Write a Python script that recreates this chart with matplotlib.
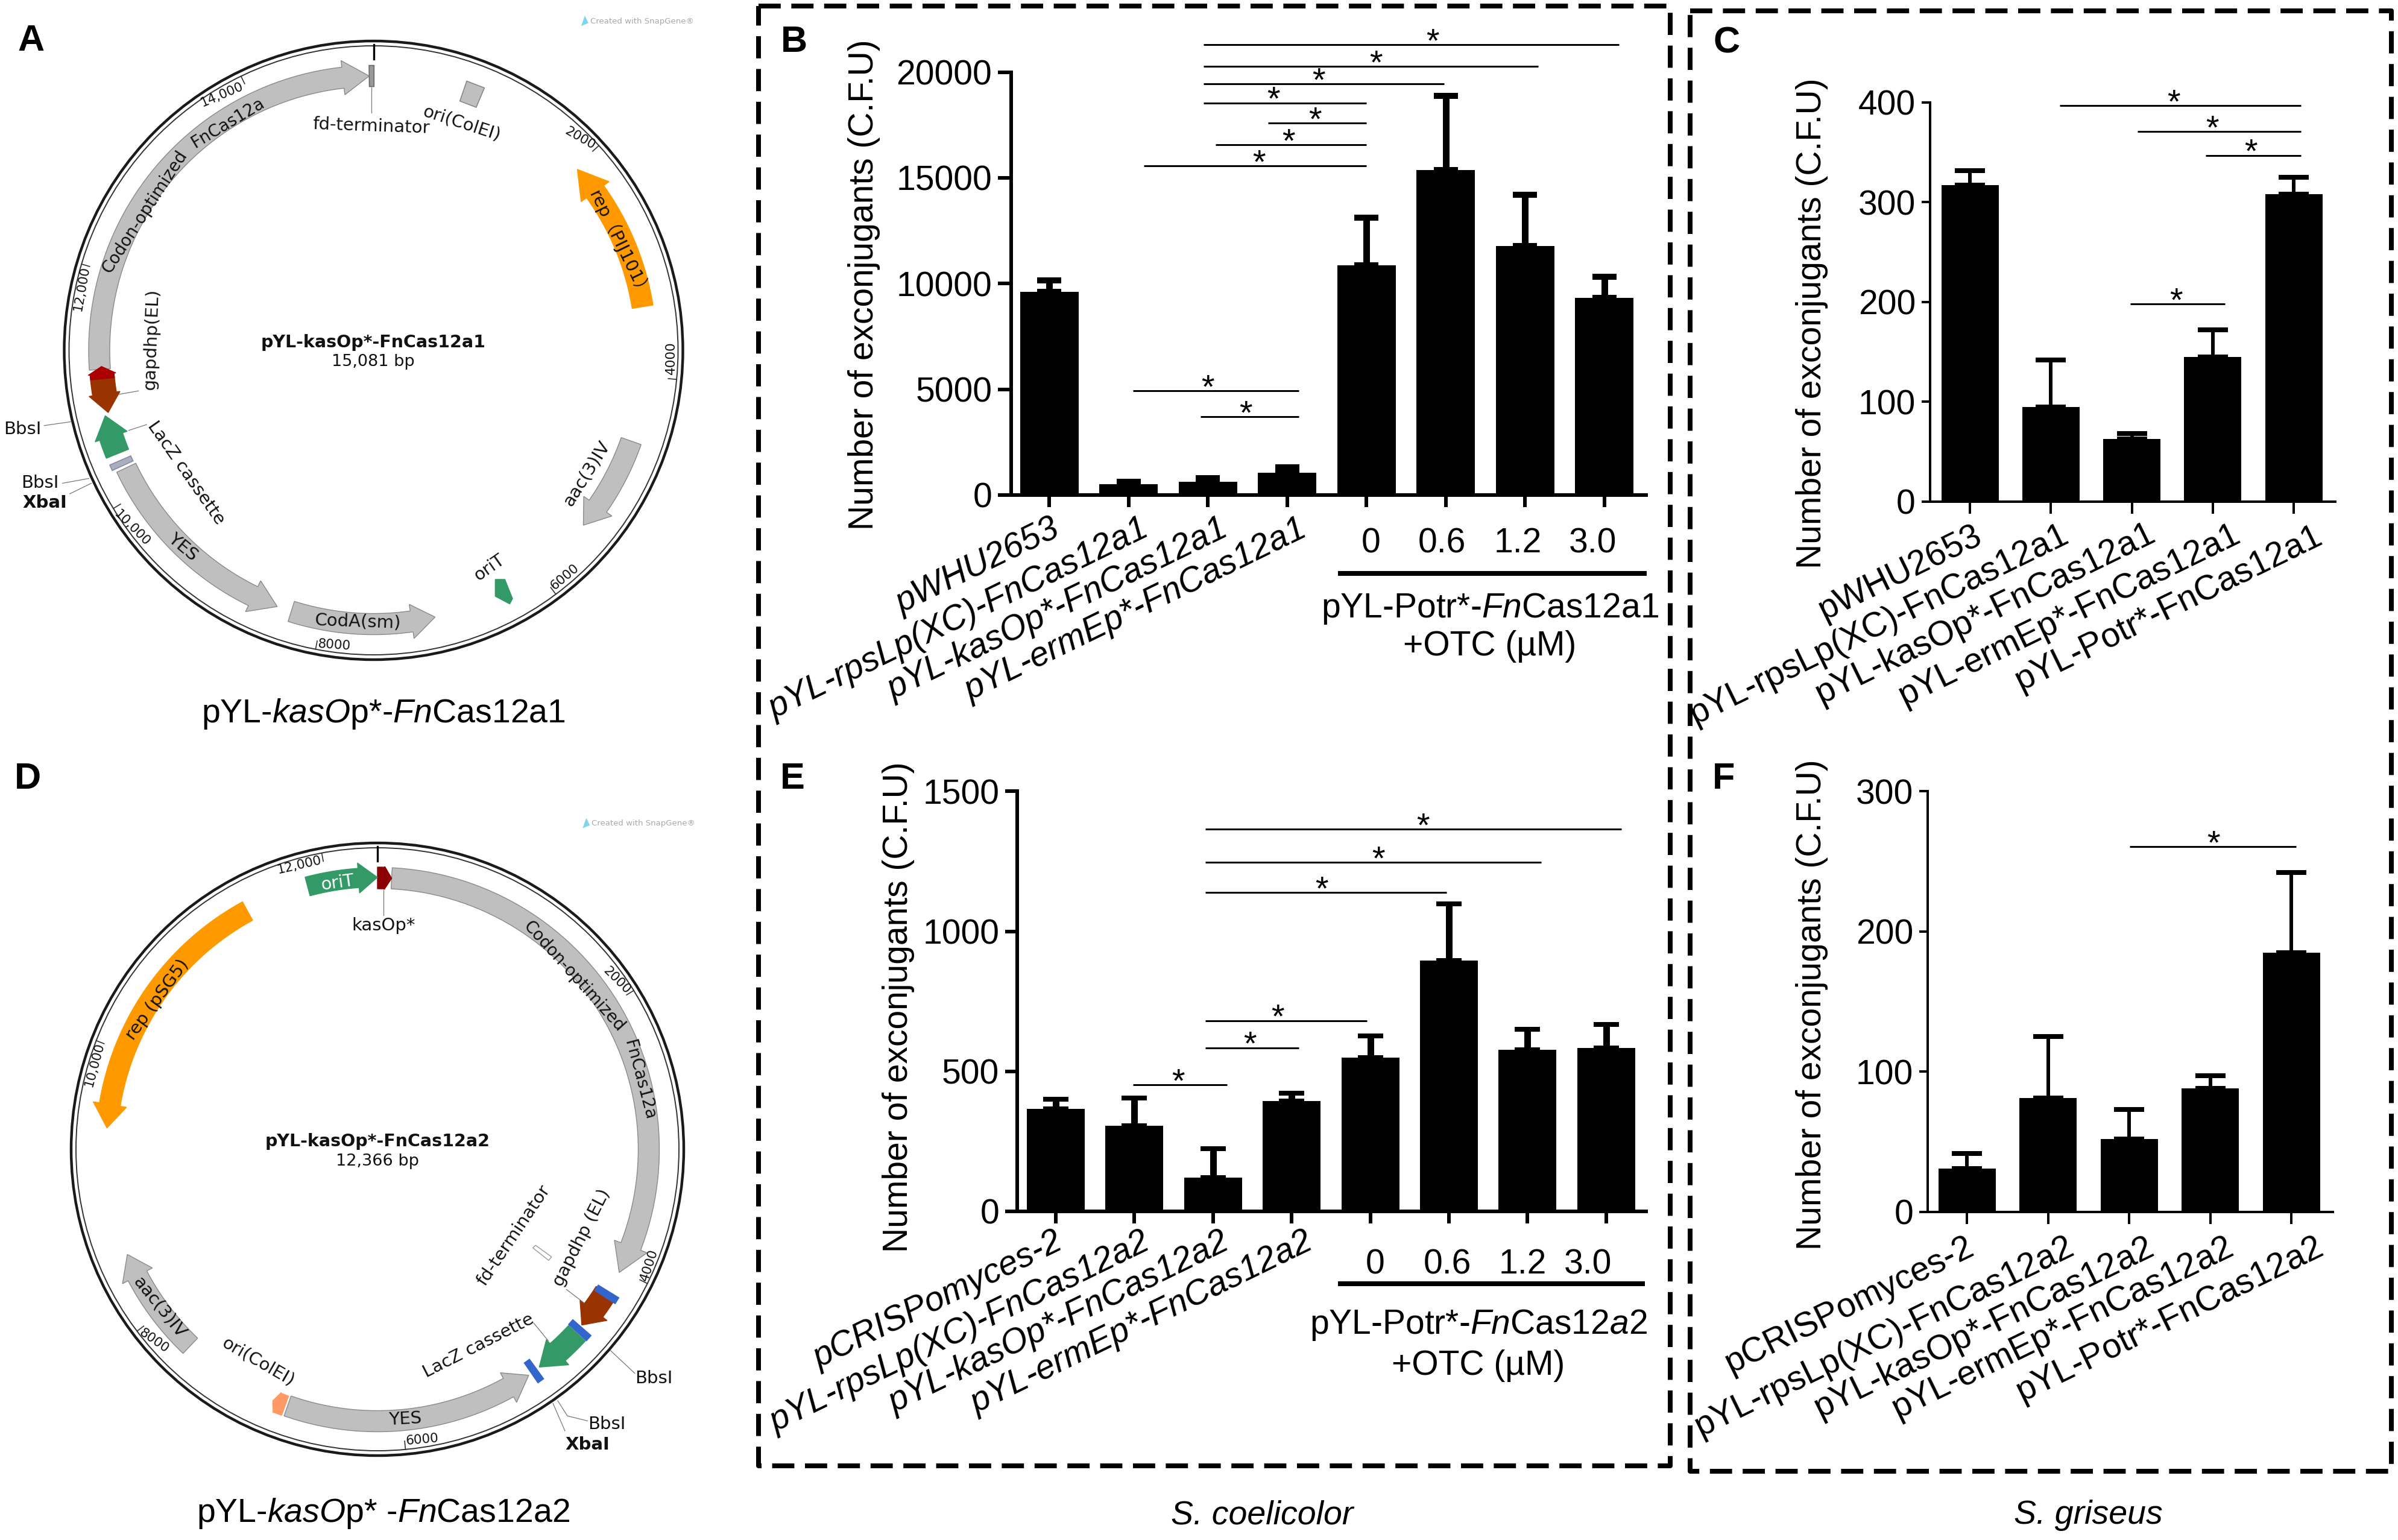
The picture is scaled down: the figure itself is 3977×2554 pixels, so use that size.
import numpy as np
import matplotlib
matplotlib.use("Agg")
import matplotlib.pyplot as plt
from matplotlib.patches import Polygon, Circle
from matplotlib.transforms import ScaledTranslation

plt.rcParams['font.family'] = ['Liberation Sans', 'DejaVu Sans']
plt.rcParams['mathtext.fontset'] = 'custom'
plt.rcParams['mathtext.rm'] = 'Liberation Sans'
plt.rcParams['mathtext.it'] = 'Liberation Sans:italic'
plt.rcParams['mathtext.bf'] = 'Liberation Sans:bold'

W, H = 3977, 2554
PX = 0.72  # px -> pt at dpi 100
YLABEL = 'Number of exconjugants (C.F.U)'

# ---- panel B ----
b_labels = ['pWHU2653', 'pYL-rpsLp(XC)-FnCas12a1', 'pYL-kasOp*-FnCas12a1', 'pYL-ermEp*-FnCas12a1',
            '0', '0.6', '1.2', '3.0']
b_means = [9615, 500, 614, 1045, 10865, 15365, 11774, 9320]
b_upper = [10160, 614, 800, 1318, 13115, 18865, 14200, 10320]
b_sig_x0 = [1.95, 1.95, 1.95, 1.95, 2.76, 2.10, 1.195, 1.06, 1.91]
b_sig_x1 = [7.19, 6.17, 4.98, 4.0, 4.0, 4.0, 4.0, 3.15, 3.15]
b_sig_y = [21298, 20275, 19434, 18548, 17593, 16570, 15570, 4932, 3705]
b_star_x = [4.84, 4.12, 3.40, 2.83, 3.35, 3.02, 2.65, 2.0, 2.48]
b_yticks = [0, 5000, 10000, 15000, 20000]

# ---- panel C ----
c_labels = ['pWHU2653', 'pYL-rpsLp(XC)-FnCas12a1', 'pYL-kasOp*-FnCas12a1', 'pYL-ermEp*-FnCas12a1',
            'pYL-Potr*-FnCas12a1']
c_means = [317, 95, 63, 145, 308]
c_upper = [332, 142, 68, 172, 325]
c_sig_x0 = [1.11, 2.07, 2.91, 1.98]
c_sig_x1 = [4.085, 4.085, 4.085, 3.15]
c_sig_y = [397, 371, 347, 198]
c_star_x = [2.52, 2.99, 3.47, 2.545]
c_yticks = [0, 100, 200, 300, 400]

# ---- panel E ----
e_labels = ['pCRISPomyces-2', 'pYL-rpsLp(XC)-FnCas12a2', 'pYL-kasOp*-FnCas12a2', 'pYL-ermEp*-FnCas12a2',
            '0', '0.6', '1.2', '3.0']
e_means = [366, 306, 120, 394, 548, 896, 577, 584]
e_upper = [401, 405, 224, 421, 627, 1097, 649, 667]
e_sig_x0 = [1.90, 1.90, 1.90, 1.90, 1.90, 0.985]
e_sig_x1 = [7.19, 6.17, 4.97, 3.96, 3.09, 2.18]
e_sig_y = [1365, 1247, 1138, 681, 584, 452]
e_star_x = [4.67, 4.10, 3.38, 2.82, 2.47, 1.56]
e_yticks = [0, 500, 1000, 1500]

# ---- panel F ----
f_labels = ['pCRISPomyces-2', 'pYL-rpsLp(XC)-FnCas12a2', 'pYL-kasOp*-FnCas12a2', 'pYL-ermEp*-FnCas12a2',
            'pYL-Potr*-FnCas12a2']
f_means = [31, 81, 52, 88, 185]
f_upper = [41.5, 125, 73, 97, 242]
f_sig_x0 = [2.01]
f_sig_x1 = [4.06]
f_sig_y = [260.6]
f_star_x = [3.04]
f_yticks = [0, 100, 200, 300]

# ---- plasmid map features: name, start deg, end deg (clockwise from top), head deg, radius, width, head width, colour
GREY, ORANGE, GREEN, BROWN, RED = '#BFBFBF', '#FF9900', '#339966', '#993300', '#AA0000'
a_feats = [
    ('Codon', 266, 359.1, 5.5, 455, 35, 57, GREY),
    ('rep', 80.8, 48.4, 6, 452, 35, 57, ORANGE),
    ('aac', 109.4, 129.8, 5, 453, 35, 57, GREY),
    ('CodA', 197.5, 167, 5, 454, 35, 57, GREY),
    ('YES', 244.6, 200.6, 5.5, 454, 35, 57, GREY),
    ('LacZ', 248, 256.3, 4.5, 458, 40, 56, GREEN),
    ('gapdhp', 264, 256.8, 4, 452, 40, 52, BROWN),
    ('kasOp', 264, 266.6, 1.6, 452, 40, 46, RED),
]
d_feats = [
    ('Codon', 3, 117, 6, 450, 35, 58, GREY),
    ('kasOp', 0, 3, 1.5, 450, 36, 38, '#8B0000'),
    ('oriT', -14.9, 0, 4, 451, 32, 50, GREEN),
    ('rep', 331.4, 274.5, 5, 450, 35, 56, ORANGE),
    ('aac', 223.6, 247.2, 5, 450, 35, 56, GREY),
    ('ori', 199.8, 202.6, 1, 452, 34, 36, '#FF9966'),
    ('YES', 199.3, 146.2, 5, 451, 35, 56, GREY),
    ('LacZ', 132.7, 143.4, 5, 450, 38, 56, GREEN),
    ('gapdhp', 122.1, 130.7, 4, 447, 38, 56, BROWN),
]
a_ticks = [2000, 4000, 6000, 8000, 10000, 12000, 14000]
d_ticks = [2000, 4000, 6000, 8000, 10000, 12000]
a_bp, d_bp = 15081, 12366

fig = plt.figure(figsize=(W / 100, H / 100), dpi=100, facecolor='white')
ov = fig.add_axes([0, 0, 1, 1])
ov.set_xlim(0, W)
ov.set_ylim(H, 0)
ov.axis('off')


def bars(left, right, y0, ytop, c0, pitch, means, upper, ymax, yticks, labels, dxs, dys, rots, italic,
         sx0, sx1, sy, sstar, spine, stem, capw, capt, tl, barw, yl_xy):
    ax = fig.add_axes([left / W, 1 - y0 / H, (right - left) / W, (y0 - ytop) / H])
    ax.patch.set_alpha(0)
    n = len(means)
    x = np.arange(n)
    ax.set_xlim((left - c0) / pitch, (right - c0) / pitch)
    ax.set_ylim(0, ymax)
    m = np.array(means, float)
    u = np.array(upper, float)
    ax.bar(x, m, width=barw / pitch, color='black')
    ax.errorbar(x, m, yerr=[np.zeros(n), u - m], fmt='none', ecolor='black', elinewidth=stem * PX,
                capsize=capw / 2 * PX, capthick=capt * PX, clip_on=False)
    for s in ['top', 'right']:
        ax.spines[s].set_visible(False)
    for s in ['left', 'bottom']:
        ax.spines[s].set_linewidth(spine * PX)
    ax.set_yticks(yticks)
    ax.tick_params(axis='y', length=tl * PX, width=spine * PX, labelsize=41, pad=7)
    ax.tick_params(axis='x', length=20 * PX, width=spine * PX, labelsize=41, pad=14)
    ax.set_xticks(x)
    ax.set_xticklabels(labels)
    for i, lab in enumerate(ax.get_xticklabels()):
        lab.set_rotation(rots[i])
        lab.set_rotation_mode('anchor')
        if rots[i]:
            lab.set_ha('right')
            if italic:
                lab.set_style('italic')
        else:
            lab.set_ha('center')
        lab.set_va('top')
        lab.set_transform(lab.get_transform() + ScaledTranslation(dxs[i] / 100, -dys[i] / 100, fig.dpi_scale_trans))
    for a, b, yy, st in zip(sx0, sx1, sy, sstar):
        ax.plot([a, b], [yy, yy], color='black', lw=3 * PX, clip_on=False, solid_capstyle='butt')
        ax.annotate('*', xy=(st, yy), xytext=(0, -8), textcoords='offset points', ha='center', va='baseline',
                    fontsize=40, annotation_clip=False)
    ov.text(yl_xy[0], yl_xy[1], YLABEL, rotation=90, ha='center', va='center', fontsize=41)
    return ax


R26 = 26
bars(1677, 2730, 821, 119.6, 1740, 131.5, b_means, b_upper, 20000, b_yticks, b_labels,
     [2, 18, 18, 18, 8, -6, -12, -19], [-10, -10, -10, -10, 14, 14, 14, 14],
     [R26] * 4 + [0] * 4, True,
     b_sig_x0, b_sig_x1, b_sig_y, b_star_x, 6, 11, 40, 10, 22, 97, (1433, 472))
bars(1687, 2730, 2008.7, 1312.4, 1751, 130.4, e_means, e_upper, 1500, e_yticks, e_labels,
     [-4, 10, 12, 20, 8, -3, -8, -30], [-15, -15, -15, -15, 22, 22, 22, 22],
     [R26] * 4 + [0] * 4, True,
     e_sig_x0, e_sig_x1, e_sig_y, e_star_x, 6, 11, 42, 8, 20, 96, (1490, 1670))
bars(3200.6, 3873, 832, 170, 3267, 134.3, c_means, c_upper, 400, c_yticks, c_labels,
     [4, 14, 24, 30, 32], [-10, -12, -14, -12, -10], [R26] * 5, False,
     c_sig_x0, c_sig_x1, c_sig_y, c_star_x, 4, 6, 50, 8, 14, 95, (3005, 536))
bars(3197, 3869, 2009.6, 1312.4, 3262, 134.5, f_means, f_upper, 300, f_yticks, f_labels,
     [-4, 28, 26, 24, 38], [-8, -8, -8, -8, -8], [R26] * 5, False,
     f_sig_x0, f_sig_x1, f_sig_y, f_star_x, 4, 6, 50, 8, 14, 95, (3005, 1666))

# group bars and captions under the dose labels
for x0, x1, yy, cx, y1, y2, lab in [
    (2219, 2731, 951, 2471, 1009, 1072, r'pYL-Potr*-$\mathit{Fn}$Cas12a1'),
    (2219, 2728, 2129, 2452, 2198, 2265, r'pYL-Potr*-$\mathit{Fn}$Cas12$\mathit{a}$2'),
]:
    ov.plot([x0, x1], [yy, yy], color='black', lw=8 * PX, solid_capstyle='butt')
    ov.text(cx, y1, lab, ha='center', va='center', fontsize=41)
    ov.text(cx, y2, '+OTC (µM)', ha='center', va='center', fontsize=41)

# dashed frames
for (l, t, r, b) in [(1258, 10, 2770, 2431), (2803, 18, 3966, 2440)]:
    ov.plot([l, r, r, l, l], [t, t, b, b, t], color='black', lw=8 * PX, linestyle=(0, (4.6, 2.2)),
            solid_capstyle='butt', dash_capstyle='butt')

# panel letters
for s, x, y in [('A', 52, 69), ('D', 46, 1293), ('B', 1317, 70), ('C', 2864, 72), ('E', 1314, 1292), ('F', 2859, 1293)]:
    ov.text(x, y, s, fontsize=44, fontweight='bold', ha='center', va='center')

ov.text(2093, 2513, 'S. coelicolor', style='italic', fontsize=40, ha='center', va='center')
ov.text(3463, 2513, 'S. griseus', style='italic', fontsize=40, ha='center', va='center')
ov.text(636, 1184, r'pYL-$\mathit{kasO}$p*-$\mathit{Fn}$Cas12a1', fontsize=40, ha='center', va='center')
ov.text(636, 2510, r'pYL-$\mathit{kasO}$p* -$\mathit{Fn}$Cas12a2', fontsize=40, ha='center', va='center')


# ---- plasmid drawing helpers ----
def P(c, r, a):
    a = np.radians(a)
    return c[0] + r * np.sin(a), c[1] - r * np.cos(a)


def arc_arrow(c, f):
    _, a0, a1, head, r, w, hw, col = f
    sgn = 1 if a1 > a0 else -1
    neck = a1 - sgn * head
    t = np.linspace(a0, neck, 60)
    outer = [P(c, r + w / 2, v) for v in t]
    inner = [P(c, r - w / 2, v) for v in t[::-1]]
    pts = outer + [P(c, r + hw / 2, neck), P(c, r, a1), P(c, r - hw / 2, neck)] + inner
    ov.add_patch(Polygon(pts, closed=True, fc=col, ec='#8a8a8a' if col == GREY else col, lw=1))


def radial_rect(c, a, r, w, half_deg, fc, ec):
    pts = [P(c, r + w / 2, a - half_deg), P(c, r + w / 2, a + half_deg),
           P(c, r - w / 2, a + half_deg), P(c, r - w / 2, a - half_deg)]
    ov.add_patch(Polygon(pts, closed=True, fc=fc, ec=ec, lw=1.2))


def ring(c, R, bp, ticks):
    ov.add_patch(Circle(c, R, fc='none', ec='#1a1a1a', lw=3.2))
    ov.add_patch(Circle(c, R - 8, fc='none', ec='#333333', lw=1.4))
    ov.plot(*zip(P(c, R - 6, 0), P(c, R - 30, 0)), color='black', lw=2.4)
    for t in ticks:
        a = 360 * t / bp
        ov.plot(*zip(P(c, R - 8, a), P(c, R - 22, a)), color='#333333', lw=1.2)


def za(x, y):
    return x / 1.254, y / 1.254


def zd(x, y):
    return x / 1.254, 1250 + y / 1.202


MAPF = ['DejaVu Sans', 'Noto Sans CJK SC']


def T(z, x, y, s, rot=0, size=21, **kw):
    px, py = z(x, y)
    ov.text(px, py, s, rotation=rot, rotation_mode='anchor', ha='center', va='center',
            fontsize=size, family=MAPF, color=kw.pop('color', '#111111'), **kw)


def L(z, pts):
    xy = [z(*p) for p in pts]
    ov.plot([p[0] for p in xy], [p[1] for p in xy], color='#777777', lw=0.9)


def snap(z, x, y):
    T(z, x, y, 'Created with SnapGene®', size=9.5, color='#a8a8a8')
    px, py = z(x - 120, y)
    ov.add_patch(Polygon([(px - 5, py + 8), (px + 1, py - 9), (px + 7, py + 3)], closed=True, fc='#7fd4ee', ec='none'))


# map A
ca = (619.5, 581)
ring(ca, 513, a_bp, a_ticks)
for f in a_feats:
    arc_arrow(ca, f)
radial_rect(ca, 359.6, 455, 35, 0.5, '#999999', '#666666')
radial_rect(ca, 21, 455, 35, 1.9, GREY, '#888888')
radial_rect(ca, 245.9, 458, 38, 0.6, '#AAB0BB', '#8888aa')
ov.add_patch(Polygon([za(1030, 1205), za(1050, 1205), za(1066, 1245), za(1060, 1256), za(1030, 1240)],
                     closed=True, fc=GREEN, ec=GREEN))
for s, x, y, r in [('14,000', 462, 197, 23), ('2000', 1207, 288, -30), ('4000', 1395, 745, 90), ('6000', 1175, 1200, 40),
                   ('8000', 695, 1342, -4), ('10,000', 275, 1098, -45), ('12,000', 170, 600, 80)]:
    T(za, x, y, s, r, size=15.5)
T(za, 776, 712, 'pYL-kasOp*-FnCas12a1', size=20.5, fontweight='bold')
T(za, 776, 752, '15,081 bp', size=19.5)
T(za, 772, 262, 'fd-terminator', -2)
T(za, 960, 257, 'ori(ColEI)', -18)
T(za, 1288, 508, 'rep（PIJ101）', -64)
T(za, 1220, 985, 'aac(3)IV', 58)
T(za, 1018, 1180, 'oriT', 35)
T(za, 744, 1293, 'CodA(sm)', -2)
T(za, 380, 1138, 'YES', -40)
T(za, 387, 983, 'LacZ cassette', -55)
T(za, 315, 705, 'gapdhp(EL)', 88)
T(za, 301, 441, 'Codon-optimized', 57, size=20)
T(za, 474, 256, 'FnCas12a', 31, size=20)
T(za, 47, 893, 'BbsI')
T(za, 83, 1005, 'BbsI')
T(za, 93, 1046, 'XbaI', fontweight='bold')
L(za, [(772, 182), (772, 235)])
L(za, [(92, 885), (148, 877)])
L(za, [(130, 1005), (185, 995)])
L(za, [(145, 1027), (190, 1005)])
L(za, [(248, 820), (288, 813)])
L(za, [(268, 895), (305, 883)])
snap(za, 1335, 44)

# map D
cd = (626, 1906)
ring(cd, 508, d_bp, d_ticks)
for f in d_feats:
    arc_arrow(cd, f)
BLUE = '#3366CC'
radial_rect(cd, 144.8, 450, 40, 0.7, BLUE, BLUE)
radial_rect(cd, 131.8, 450, 40, 0.7, BLUE, BLUE)
radial_rect(cd, 122.3, 450, 40, 0.7, BLUE, BLUE)
ov.add_patch(Polygon([zd(1108, 985), zd(1114, 980), zd(1147, 1003), zd(1141, 1010)], closed=True, fc='white', ec='#999999', lw=1))
for s, x, y, r in [('2000', 1283, 452, -45), ('4000', 1350, 1020, 72), ('6000', 878, 1368, 5), ('8000', 320, 1170, -35),
                   ('10,000', 197, 620, 75), ('12,000', 623, 222, 13)]:
    T(zd, x, y, s, r, size=15.5)
T(zd, 785, 773, 'pYL-kasOp*-FnCas12a2', size=20.5, fontweight='bold')
T(zd, 785, 812, '12,366 bp', size=19.5)
T(zd, 702, 257, 'oriT', 8, color='white')
T(zd, 798, 342, 'kasOp*')
T(zd, 1194, 444, 'Codon-optimized', -48, size=20)
T(zd, 1330, 650, 'FnCas12a', -75, size=20)
T(zd, 327, 490, 'rep (pSG5)', 54)
T(zd, 1068, 960, 'fd-terminator', 56)
T(zd, 1210, 965, 'gapdhp (EL)', 63)
T(zd, 995, 1180, 'LacZ cassette', 27)
T(zd, 537, 1212, 'ori(ColEI)', -30)
T(zd, 332, 1103, 'aac(3)IV', -51)
T(zd, 843, 1327, 'YES', 3)
T(zd, 1360, 1245, 'BbsI')
T(zd, 1262, 1337, 'BbsI')
T(zd, 1222, 1377, 'XbaI', fontweight='bold')
L(zd, [(798, 272), (798, 322)])
L(zd, [(1270, 1190), (1320, 1235)])
L(zd, [(1160, 1290), (1180, 1320), (1222, 1330)])
L(zd, [(1150, 1295), (1175, 1350)])
L(zd, [(1178, 1068), (1215, 1095)])
L(zd, [(1110, 1135), (1140, 1170)])
snap(zd, 1338, 139)

fig.savefig('out.png', dpi=100, facecolor='white')
